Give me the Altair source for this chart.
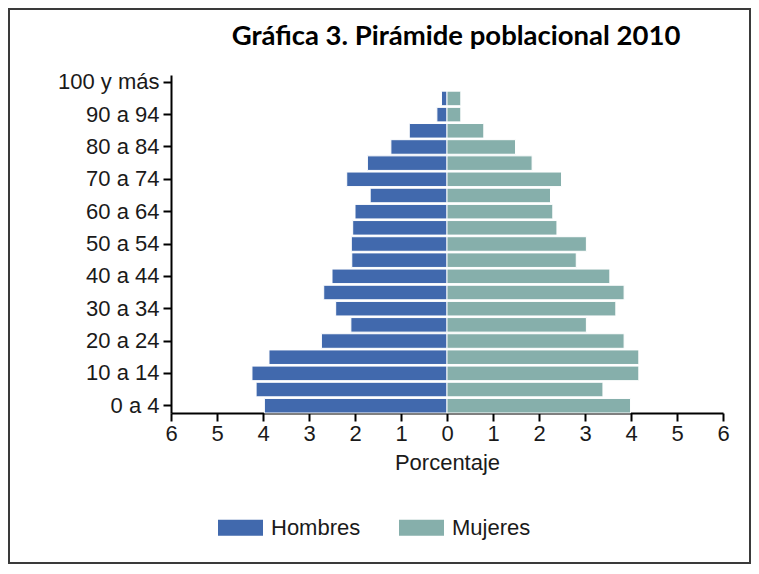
import altair as alt
import pandas as pd

edades = ["0 a 4", "5 a 9", "10 a 14", "15 a 19", "20 a 24", "25 a 29", "30 a 34",
          "35 a 39", "40 a 44", "45 a 49", "50 a 54", "55 a 59", "60 a 64", "65 a 69",
          "70 a 74", "75 a 79", "80 a 84", "85 a 89", "90 a 94", "95 a 99", "100 y más"]
hombres = [3.97, 4.15, 4.24, 3.87, 2.73, 2.09, 2.42, 2.68, 2.50, 2.07, 2.08,
           2.05, 2.00, 1.67, 2.18, 1.73, 1.22, 0.82, 0.22, 0.12, 0.0]
mujeres = [3.99, 3.39, 4.17, 4.17, 3.85, 3.03, 3.67, 3.85, 3.54, 2.81, 3.03,
           2.39, 2.30, 2.25, 2.49, 1.85, 1.49, 0.80, 0.30, 0.30, 0.0]
etiquetas_y = ["0 a 4", "10 a 14", "20 a 24", "30 a 34", "40 a 44", "50 a 54",
               "60 a 64", "70 a 74", "80 a 84", "90 a 94", "100 y más"]
ticks_x = [-6, -5, -4, -3, -2, -1, 0, 1, 2, 3, 4, 5, 6]
sexos = ["Hombres", "Mujeres"]
colores = ["#4169AD", "#86AFAB"]

rows = []
for e, h, m in zip(edades, hombres, mujeres):
    rows.append({"edad": e, "sexo": "Hombres", "valor": -h})
    rows.append({"edad": e, "sexo": "Mujeres", "valor": m})
df = pd.DataFrame(rows)

FONT = "Liberation Sans"
FS = 22
rect_path = "M-1,-0.356L1,-0.356L1,0.356L-1,0.356Z"

bars = alt.Chart(df).mark_bar(stroke="white", strokeWidth=1).encode(
    x=alt.X("valor:Q",
            scale=alt.Scale(domain=[-6, 6], nice=False, zero=False),
            axis=alt.Axis(values=ticks_x, labelExpr="abs(datum.value)", title="Porcentaje",
                          grid=False, tickSize=8, labelPadding=2, titlePadding=8,
                          labelFontSize=FS, titleFontSize=FS, titleFontWeight="normal",
                          labelFont=FONT, titleFont=FONT, labelColor="#1a1a1a",
                          titleColor="#1a1a1a", domainColor="black", tickColor="black",
                          domainWidth=2, tickWidth=2, labelFlush=False)),
    y=alt.Y("edad:N", sort=list(reversed(edades)),
            scale=alt.Scale(paddingInner=0.1, paddingOuter=0),
            axis=alt.Axis(values=etiquetas_y, title=None, tickSize=8, labelPadding=4,
                          labelFontSize=FS, labelFont=FONT, labelColor="#1a1a1a",
                          domainColor="black", tickColor="black", domainWidth=2,
                          tickWidth=2, grid=False)),
    color=alt.Color("sexo:N",
                    scale=alt.Scale(domain=sexos, range=colores),
                    legend=alt.Legend(title=None, orient="none", direction="horizontal",
                                      legendX=47, legendY=430, symbolType=rect_path,
                                      symbolSize=2025, symbolStrokeWidth=0,
                                      labelFontSize=FS, labelFont=FONT,
                                      labelColor="#1a1a1a", labelOffset=8,
                                      columnPadding=38)),
)

border = alt.Chart(pd.DataFrame({"a": [0]})).mark_rect(
    filled=False, stroke="#3a3a3a", strokeWidth=2
).encode(
    x=alt.value(-162), x2=alt.value(579), y=alt.value(-66), y2=alt.value(488)
)

chart = alt.layer(border, bars).properties(
    width=552, height=338,
    title=alt.TitleParams("Gráfica 3. Pirámide poblacional 2010", font="Lato",
                          fontSize=27.5, fontWeight="bold", anchor="middle", dx=9,
                          offset=-42, color="black"),
    autosize=alt.AutoSizeParams(type="none"),
    padding={"left": 163, "top": 67, "right": 28, "bottom": 151},
).configure_view(stroke=None)

chart.save("out.html", embed_options={"renderer": "svg", "actions": False})
